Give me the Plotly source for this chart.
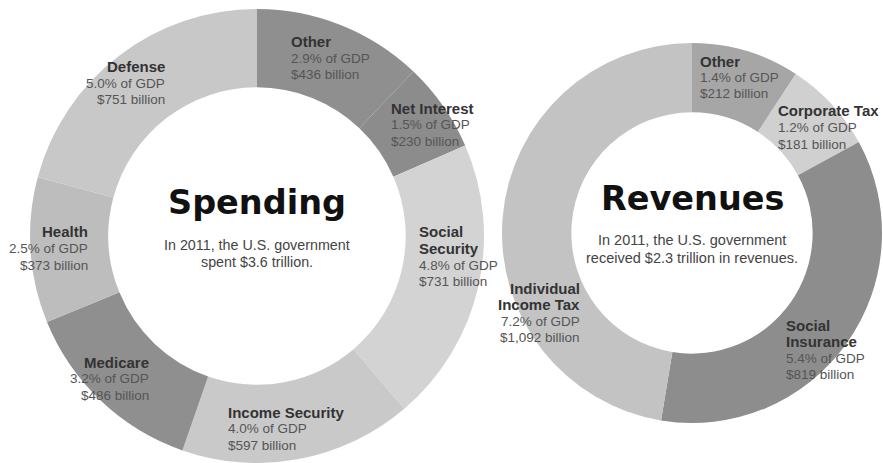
import plotly.graph_objects as go

W, H = 883, 463

# ---- data -------------------------------------------------------------
spend_names = ["Other", "Net Interest", "Social<br>Security", "Income Security",
               "Medicare", "Health", "Defense"]
spend_billions = [436, 230, 731, 597, 486, 373, 751]
spend_gdp = [2.9, 1.5, 4.8, 4.0, 3.2, 2.5, 5.0]

rev_names = ["Other", "Corporate Tax", "Social<br>Insurance", "Individual<br>Income Tax"]
rev_billions = [212, 181, 819, 1092]
rev_gdp = [1.4, 1.2, 5.4, 7.2]

# ---- styles -----------------------------------------------------------
spend_colors = ["#8f8f8f", "#8c8c8c", "#d3d3d3", "#c9c9c9", "#8f8f8f", "#bdbdbd", "#c8c8c8"]
rev_colors = ["#a6a6a6", "#d0d0d0", "#8d8d8d", "#c3c3c3"]

# label anchor: (x px, first line y px, alignment)
spend_label_pos = [(289, 42, "left"), (389, 108, "left"), (417, 232, "left"),
                   (226, 412, "left"), (151, 362, "right"), (90, 232, "right"),
                   (167, 67, "right")]
rev_label_pos = [(698, 61, "left"), (776, 111, "left"), (784, 325, "left"),
                 (582, 288, "right")]


def px_dom(x0, x1, y0, y1):
    return dict(x=[x0 / W, x1 / W], y=[1 - y1 / H, 1 - y0 / H])


fig = go.Figure()
fig.add_trace(go.Pie(
    labels=[n.replace("<br>", " ") for n in spend_names], values=spend_billions,
    sort=False, direction="clockwise", rotation=0, hole=0.655,
    marker=dict(colors=spend_colors, line=dict(width=0)),
    textinfo="none", hoverinfo="label+value", showlegend=False,
    domain=px_dom(29, 485, 9, 463),
))
fig.add_trace(go.Pie(
    labels=[n.replace("<br>", " ") for n in rev_names], values=rev_billions,
    sort=False, direction="clockwise", rotation=0, hole=0.635,
    marker=dict(colors=rev_colors, line=dict(width=0)),
    textinfo="none", hoverinfo="label+value", showlegend=False,
    domain=px_dom(502, 882, 43, 423),
))

annotations = []
LINE = 16.5


def add_line(text, x, y, align, size, color, bold=False, family="Liberation Sans, Arial, sans-serif"):
    annotations.append(dict(
        text=f"<b>{text}</b>" if bold else text,
        x=x / W, y=1 - y / H, xref="paper", yref="paper",
        xanchor=align, yanchor="middle", showarrow=False,
        font=dict(size=size, color=color, family=family),
    ))


def add_labels(names, gdp, billions, positions):
    for name, g, b, (x, y, align) in zip(names, gdp, billions, positions):
        lines = name.split("<br>")
        for i, ln in enumerate(lines):
            add_line(ln, x, y + i * LINE, align, 15, "#333333", bold=True)
        k = len(lines)
        add_line(f"{g:.1f}% of GDP", x, y + k * LINE, align, 13.5, "#555555")
        add_line(f"${b:,} billion", x, y + (k + 1) * LINE, align, 13.5, "#555555")


add_labels(spend_names, spend_gdp, spend_billions, spend_label_pos)
add_labels(rev_names, rev_gdp, rev_billions, rev_label_pos)

# centre titles
title_font = "DejaVu Sans, Verdana, sans-serif"
add_line("Spending", 257, 202, "center", 33.5, "#111111", bold=True, family=title_font)
add_line("In 2011, the U.S. government", 257, 245, "center", 14.3, "#444444")
add_line("spent $3.6 trillion.", 257, 262, "center", 14.3, "#444444")

add_line("Revenues", 692, 198, "center", 33.5, "#111111", bold=True, family=title_font)
add_line("In 2011, the U.S. government", 692, 240, "center", 14.5, "#444444")
add_line("received $2.3 trillion in revenues.", 692, 258, "center", 14.5, "#444444")

fig.update_layout(
    width=W, height=H,
    margin=dict(l=0, r=0, t=0, b=0),
    paper_bgcolor="white", plot_bgcolor="white",
    annotations=annotations,
)

fig.write_html("out.html")
